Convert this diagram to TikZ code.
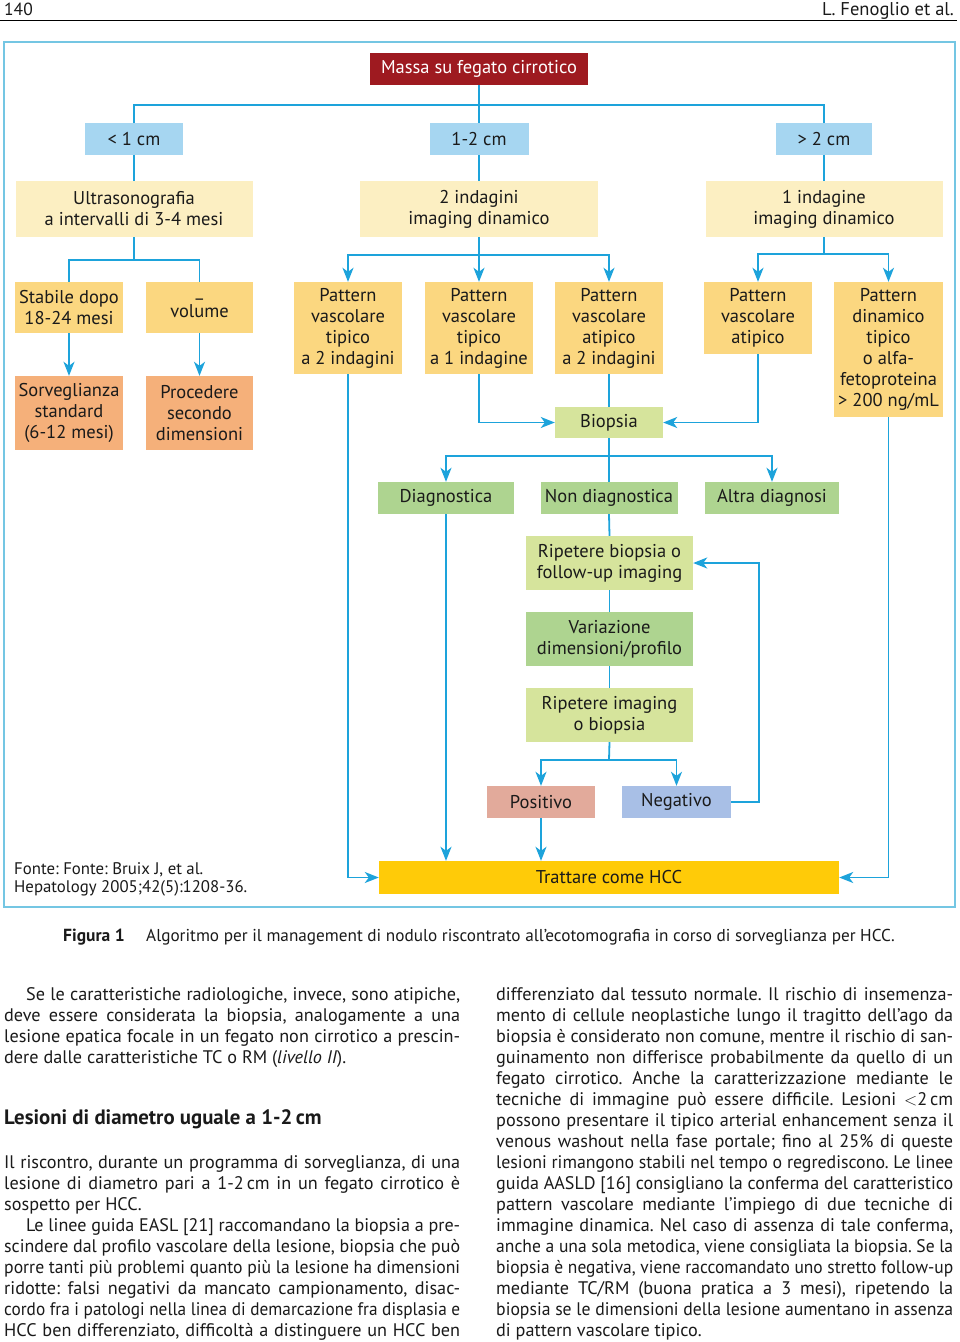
\documentclass[tikz,border=0pt]{standalone}
\usepackage{fontspec}
\usepackage{graphicx}
\setmainfont{PT Sans}
\usetikzlibrary{arrows.meta}
\frenchspacing
\definecolor{frameblue}{HTML}{74C6E3}
\definecolor{linkblue}{HTML}{1DA3DB}
\definecolor{massared}{HTML}{9E1A20}
\definecolor{sizeblue}{HTML}{A6D6F1}
\definecolor{paleyel}{HTML}{FCEFC2}
\definecolor{yel}{HTML}{FBD780}
\definecolor{orng}{HTML}{F5B07A}
\definecolor{olive}{HTML}{D6E49C}
\definecolor{grn}{HTML}{AED490}
\definecolor{salmon}{HTML}{E2AA9B}
\definecolor{peri}{HTML}{A8BFE6}
\definecolor{gold}{HTML}{FFCB08}
\definecolor{txt}{HTML}{1A1A1A}
\newcommand\dfont{\fontsize{18.5}{21}\selectfont}
\newcommand\bfont{\fontsize{18.2}{21}\selectfont}
\newsavebox\linebx
\newcommand\fitline[2]{\sbox\linebx{#2}\ifdim\wd\linebx>#1\relax\resizebox{#1}{\height}{\usebox\linebx}\else\makebox[#1][s]{#2}\fi}
\newcommand\jline[4]{\node[bodytxt] (#1) at (#2) {\fitline{#3pt}{#4}};}
\newcommand\pline[3]{\node[bodytxt] (#1) at (#2) {#3};}
\begin{document}
\begin{tikzpicture}[x=1pt,y=-1pt,
  box/.style={inner sep=0pt, align=center, font=\dfont, text=txt},
  conn/.style={draw=linkblue, line width=1.8pt},
  arr/.style={conn, -{Stealth[length=14pt,width=11pt,inset=4pt]}},
  bodytxt/.style={anchor=base west, inner sep=0pt, font=\bfont, text=txt}]
\useasboundingbox (0,0) rectangle (960,1342);
\fill[white] (0,0) rectangle (960,1342);
% header
\node[anchor=base west, inner sep=0pt, font=\fontsize{17.5}{19}\selectfont, text=txt] (pg) at (4,15) {140};
\node[anchor=base east, inner sep=0pt, font=\fontsize{18.5}{19}\selectfont, text=txt] (au) at (954,15) {L. Fenoglio et al.};
\draw[line width=1.3pt] (0,20.5) -- (957,20.5);
% frame
\draw[draw=frameblue, line width=2pt] (4,42) rectangle (955,907);
% nodes
\node[box, fill=massared, text=white, minimum width=218pt, minimum height=32pt] (massa) at (479,69) {Massa su fegato cirrotico};
\node[box, fill=sizeblue, minimum width=98pt, minimum height=32pt] (s1) at (134,139) {< 1 cm};
\node[box, fill=sizeblue, minimum width=99pt, minimum height=32pt] (s2) at (479,139) {1-2 cm};
\node[box, fill=sizeblue, minimum width=96pt, minimum height=32pt] (s3) at (824,139) {> 2 cm};
\node[box, fill=paleyel, minimum width=237pt, minimum height=56pt] (u1) at (134,209) {Ultrasonografia\\a intervalli di 3-4 mesi};
\node[box, fill=paleyel, minimum width=238pt, minimum height=56pt] (u2) at (479,209) {2 indagini\\imaging dinamico};
\node[box, fill=paleyel, minimum width=237pt, minimum height=56pt] (u3) at (824,209) {1 indagine\\imaging dinamico};
\node[box, fill=yel, minimum width=108pt, minimum height=51pt] (a1) at (69,307.5) {Stabile dopo\\18-24 mesi};
\node[box, fill=yel, minimum width=107pt, minimum height=51pt] (a2) at (199.5,307.5) {\_\\volume};
\node[box, fill=orng, minimum width=108pt, minimum height=74pt] (b1) at (69,413) {Sorveglianza\\standard\\(6-12 mesi)};
\node[box, fill=orng, minimum width=107pt, minimum height=74pt] (b2) at (199.5,413) {Procedere\\secondo\\dimensioni};
\node[box, fill=yel, minimum width=108pt, minimum height=92pt] (p1) at (348,328) {Pattern\\vascolare\\tipico\\a 2 indagini};
\node[box, fill=yel, minimum width=108pt, minimum height=92pt] (p2) at (479,328) {Pattern\\vascolare\\tipico\\a 1 indagine};
\node[box, fill=yel, minimum width=108pt, minimum height=92pt] (p3) at (609,328) {Pattern\\vascolare\\atipico\\a 2 indagini};
\node[box, fill=yel, minimum width=108pt, minimum height=72pt] (p4) at (758,318) {Pattern\\vascolare\\atipico};
\node[box, fill=yel, minimum width=109pt, minimum height=135pt] (p5) at (888.5,349.5) {Pattern\\dinamico\\tipico\\o alfa-\\fetoproteina\\> 200 ng/mL};
\node[box, fill=olive, minimum width=108pt, minimum height=31pt] (bio) at (609,422.5) {Biopsia};
\node[box, fill=grn, minimum width=136pt, minimum height=32pt] (diag) at (446,498) {Diagnostica};
\node[box, fill=grn, minimum width=137pt, minimum height=32pt] (nond) at (609,498) {Non diagnostica};
\node[box, fill=grn, minimum width=134pt, minimum height=32pt] (altra) at (772,498) {Altra diagnosi};
\node[box, fill=olive, minimum width=167pt, minimum height=54pt] (rip1) at (609.5,563) {Ripetere biopsia o\\follow-up imaging};
\node[box, fill=grn, minimum width=167pt, minimum height=54pt] (var) at (609.5,639) {Variazione\\dimensioni/profilo};
\node[box, fill=olive, minimum width=167pt, minimum height=54pt] (rip2) at (609.5,715) {Ripetere imaging\\o biopsia};
\node[box, fill=salmon, minimum width=108pt, minimum height=32pt] (pos) at (541,802) {Positivo};
\node[box, fill=peri, minimum width=109pt, minimum height=32pt] (neg) at (676.5,802) {Negativo};
\node[box, fill=gold, minimum width=460pt, minimum height=33pt] (hcc) at (609,877.5) {Trattare come HCC};
\node[anchor=base west, inner sep=0pt, font=\fontsize{16.8}{18}\selectfont, text=txt] (src1) at (14,874) {Fonte: Fonte: Bruix J, et al.};
\node[anchor=base west, inner sep=0pt, font=\fontsize{16.8}{18}\selectfont, text=txt] (src2) at (14,892) {Hepatology 2005;42(5):1208-36.};
% junctions
\coordinate (j1) at (479,105);
\coordinate (j2) at (134,260);
\coordinate (j3) at (479,255);
\coordinate (j4) at (824,254);
\coordinate (j5) at (609,456);
\coordinate (j6) at (609,760);
\coordinate (k) at (759,563);
% connectors
\draw[conn] (massa.south) -- (s2.north);
\draw[conn] (s1.north) |- (j1) -| (s3.north);
\draw[conn] (s1.south) -- (u1.north);
\draw[conn] (s2.south) -- (u2.north);
\draw[conn] (s3.south) -- (u3.north);
\draw[conn] (u1.south) -- (j2);
\draw[conn] (a1.north) |- (j2) -| (a2.north);
\draw[arr] (a1.south) -- (b1.north);
\draw[arr] (a2.south) -- (b2.north);
\draw[conn] (u2.south) -- (j3);
\draw[arr] (j3) -- (p2.north);
\draw[arr] (j3) -| (p1.north);
\draw[arr] (j3) -| (p3.north);
\draw[conn] (u3.south) -- (j4);
\draw[arr] (j4) -| (p4.north);
\draw[arr] (j4) -| (p5.north);
\draw[conn] (p3.south) -- (bio.north);
\draw[arr] (p2.south) |- (bio.west);
\draw[arr] (p4.south) |- (bio.east);
\draw[conn] (bio.south) -- (nond.north);
\draw[arr] (j5) -| (diag.north);
\draw[arr] (j5) -| (altra.north);
\draw[conn] (nond.south) -- (rip1.north);
\draw[conn] (rip1.south) -- (var.north);
\draw[conn] (var.south) -- (rip2.north);
\draw[conn] (rip2.south) -- (j6);
\draw[arr] (j6) -| (pos.north);
\draw[arr] (j6) -| (neg.north);
\draw[arr] (neg.east) -| (k) -- (rip1.east);
\draw[arr] (pos.south) -- (pos.south |- hcc.north);
\draw[arr] (diag.south) -- (diag.south |- hcc.north);
\draw[arr] (p1.south) |- (hcc.west);
\draw[arr] (p5.south) |- (hcc.east);
% caption
\node[anchor=base west, inner sep=0pt, font=\fontsize{17.5}{19}\selectfont\bfseries, text=txt] (figl) at (63,941) {Figura 1};
\node[anchor=base west, inner sep=0pt, font=\fontsize{17.2}{19}\selectfont, text=txt] (figc) at (146,941) {Algoritmo per il management di nodulo riscontrato all’ecotomografia in corso di sorveglianza per HCC.};
% left column
\jline{la1}{26,1000}{434}{Se le caratteristiche radiologiche, invece, sono atipiche,}
\jline{la2}{4,1021}{456}{deve essere considerata la biopsia, analogamente a una}
\jline{la3}{4,1042}{456}{lesione epatica focale in un fegato non cirrotico a prescin-}
\pline{la4}{4,1063}{dere dalle caratteristiche TC o RM (\textit{livello II}).}
\node[anchor=base west, inner sep=0pt, font=\fontsize{20.8}{23}\selectfont\bfseries, text=txt] (head) at (4,1124) {Lesioni di diametro uguale a 1-2\,cm};
\jline{lb1}{4,1168}{456}{Il riscontro, durante un programma di sorveglianza, di una}
\jline{lb2}{4,1189}{456}{lesione di diametro pari a 1-2\,cm in un fegato cirrotico è}
\pline{lb3}{4,1210}{sospetto per HCC.}
\jline{lb4}{26,1231}{434}{Le linee guida EASL [21] raccomandano la biopsia a pre-}
\jline{lb5}{4,1252}{456}{scindere dal profilo vascolare della lesione, biopsia che può}
\jline{lb6}{4,1273}{456}{porre tanti più problemi quanto più la lesione ha dimensioni}
\jline{lb7}{4,1294}{456}{ridotte: falsi negativi da mancato campionamento, disac-}
\jline{lb8}{4,1315}{456}{cordo fra i patologi nella linea di demarcazione fra displasia e}
\jline{lb9}{4,1336}{456}{HCC ben differenziato, difficoltà a distinguere un HCC ben}
% right column
\jline{r1}{496,1000}{457}{differenziato dal tessuto normale. Il rischio di insemenza-}
\jline{r2}{496,1021}{457}{mento di cellule neoplastiche lungo il tragitto dell’ago da}
\jline{r3}{496,1042}{457}{biopsia è considerato non comune, mentre il rischio di san-}
\jline{r4}{496,1063}{457}{guinamento non differisce probabilmente da quello di un}
\jline{r5}{496,1084}{457}{fegato cirrotico. Anche la caratterizzazione mediante le}
\jline{r6}{496,1105}{457}{tecniche di immagine può essere difficile. Lesioni $<$2\,cm}
\jline{r7}{496,1126}{457}{possono presentare il tipico arterial enhancement senza il}
\jline{r8}{496,1147}{457}{venous washout nella fase portale; fino al 25\% di queste}
\jline{r9}{496,1168}{457}{lesioni rimangono stabili nel tempo o regrediscono. Le linee}
\jline{r10}{496,1189}{457}{guida AASLD [16] consigliano la conferma del caratteristico}
\jline{r11}{496,1210}{457}{pattern vascolare mediante l’impiego di due tecniche di}
\jline{r12}{496,1231}{457}{immagine dinamica. Nel caso di assenza di tale conferma,}
\jline{r13}{496,1252}{457}{anche a una sola metodica, viene consigliata la biopsia. Se la}
\jline{r14}{496,1273}{457}{biopsia è negativa, viene raccomandato uno stretto follow-up}
\jline{r15}{496,1294}{457}{mediante TC/RM (buona pratica a 3 mesi), ripetendo la}
\jline{r16}{496,1315}{457}{biopsia se le dimensioni della lesione aumentano in assenza}
\pline{r17}{496,1336}{di pattern vascolare tipico.}
\end{tikzpicture}
\end{document}
